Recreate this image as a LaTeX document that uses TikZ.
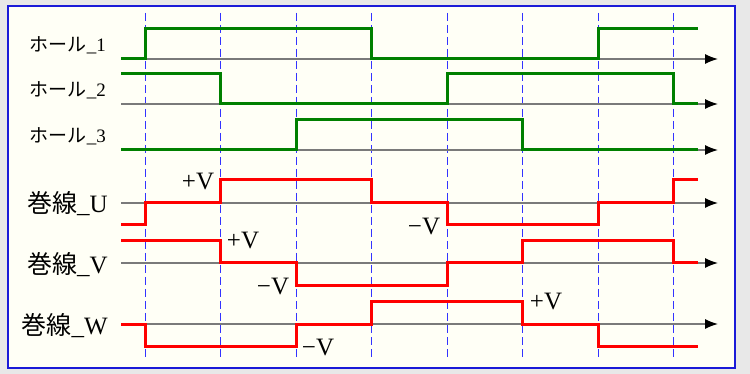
\documentclass[tikz,border=0pt]{standalone}
\usepackage{fontspec}
\setmainfont{Liberation Serif}
\newfontfamily\jp{Noto Sans CJK JP}
\usetikzlibrary{arrows.meta}

\definecolor{outerbg}{HTML}{E8E8E8}
\definecolor{innerbg}{HTML}{FFFFF6}
\definecolor{framecol}{HTML}{1A1AD8}
\definecolor{hallcol}{HTML}{008000}
\definecolor{axiscol}{HTML}{7A7A7A}

\tikzset{
  hall/.style={font=\fontsize{19}{22}\selectfont, anchor=east, inner sep=0pt},
  coil/.style={font=\fontsize{25}{28}\selectfont, anchor=east, inner sep=0pt},
  volt/.style={font=\fontsize{25}{28}\selectfont, inner sep=0pt},
  timeaxis/.style={axiscol, line width=1.4pt, -{Latex[length=13pt, width=10pt, black]}},
  hallsig/.style={hallcol, line width=3pt},
  coilsig/.style={red, line width=3pt},
  tick/.style={blue!80, line width=1pt, dash pattern=on 8pt off 4pt}
}

\begin{document}
\begin{tikzpicture}[x=1pt, y=-1pt]

  % background and frame
  \fill[outerbg] (0,0) rectangle (750,374);
  \draw[framecol, line width=2pt, fill=innerbg] (8,6) rectangle (735,368);

  % switching instants
  \foreach \x in {145, 220.5, 296, 371.5, 447, 522.5, 598, 673.5} {
    \draw[tick] (\x,13) -- (\x,360);
  }

  % time axes
  \foreach \y in {59, 104, 150, 203, 263, 324} {
    \draw[timeaxis] (121,\y) -- (718,\y);
  }

  % hall sensors
  \draw[hallsig] (121,59) -- (145,59) -- (145,29) -- (371.5,29) -- (371.5,59)
    -- (598,59) -- (598,29) -- (698,29);
  \draw[hallsig] (121,74) -- (220.5,74) -- (220.5,104) -- (447,104) -- (447,74)
    -- (673.5,74) -- (673.5,104) -- (698,104);
  \draw[hallsig] (121,150) -- (296,150) -- (296,120) -- (522.5,120) -- (522.5,150)
    -- (698,150);

  % coils
  \draw[coilsig] (121,225) -- (145,225) -- (145,203) -- (220.5,203) -- (220.5,180)
    -- (371.5,180) -- (371.5,203) -- (447,203) -- (447,225) -- (598,225)
    -- (598,203) -- (673.5,203) -- (673.5,180) -- (698,180);
  \draw[coilsig] (121,241) -- (220.5,241) -- (220.5,263) -- (296,263) -- (296,286)
    -- (447,286) -- (447,263) -- (522.5,263) -- (522.5,241) -- (673.5,241)
    -- (673.5,263) -- (698,263);
  \draw[coilsig] (121,324) -- (145,324) -- (145,346) -- (296,346) -- (296,324)
    -- (371.5,324) -- (371.5,301) -- (522.5,301) -- (522.5,324) -- (598,324)
    -- (598,346) -- (698,346);

  % signal names
  \node[hall] (h1) at (106,45) {{\jp ホール}\_1};
  \node[hall] (h2) at (106,90) {{\jp ホール}\_2};
  \node[hall] (h3) at (106,136) {{\jp ホール}\_3};
  \node[coil] (cu) at (108,204) {{\jp 巻線}\_U};
  \node[coil] (cv) at (108,265) {{\jp 巻線}\_V};
  \node[coil] (cw) at (108,326) {{\jp 巻線}\_W};

  % voltage marks
  \node[volt] (up) at (198,182) {+V};
  \node[volt] (un) at (424,227) {−V};
  \node[volt] (vp) at (243,241) {+V};
  \node[volt] (vn) at (273,287) {−V};
  \node[volt] (wn) at (318,348) {−V};
  \node[volt] (wp) at (546,302) {+V};

\end{tikzpicture}
\end{document}
